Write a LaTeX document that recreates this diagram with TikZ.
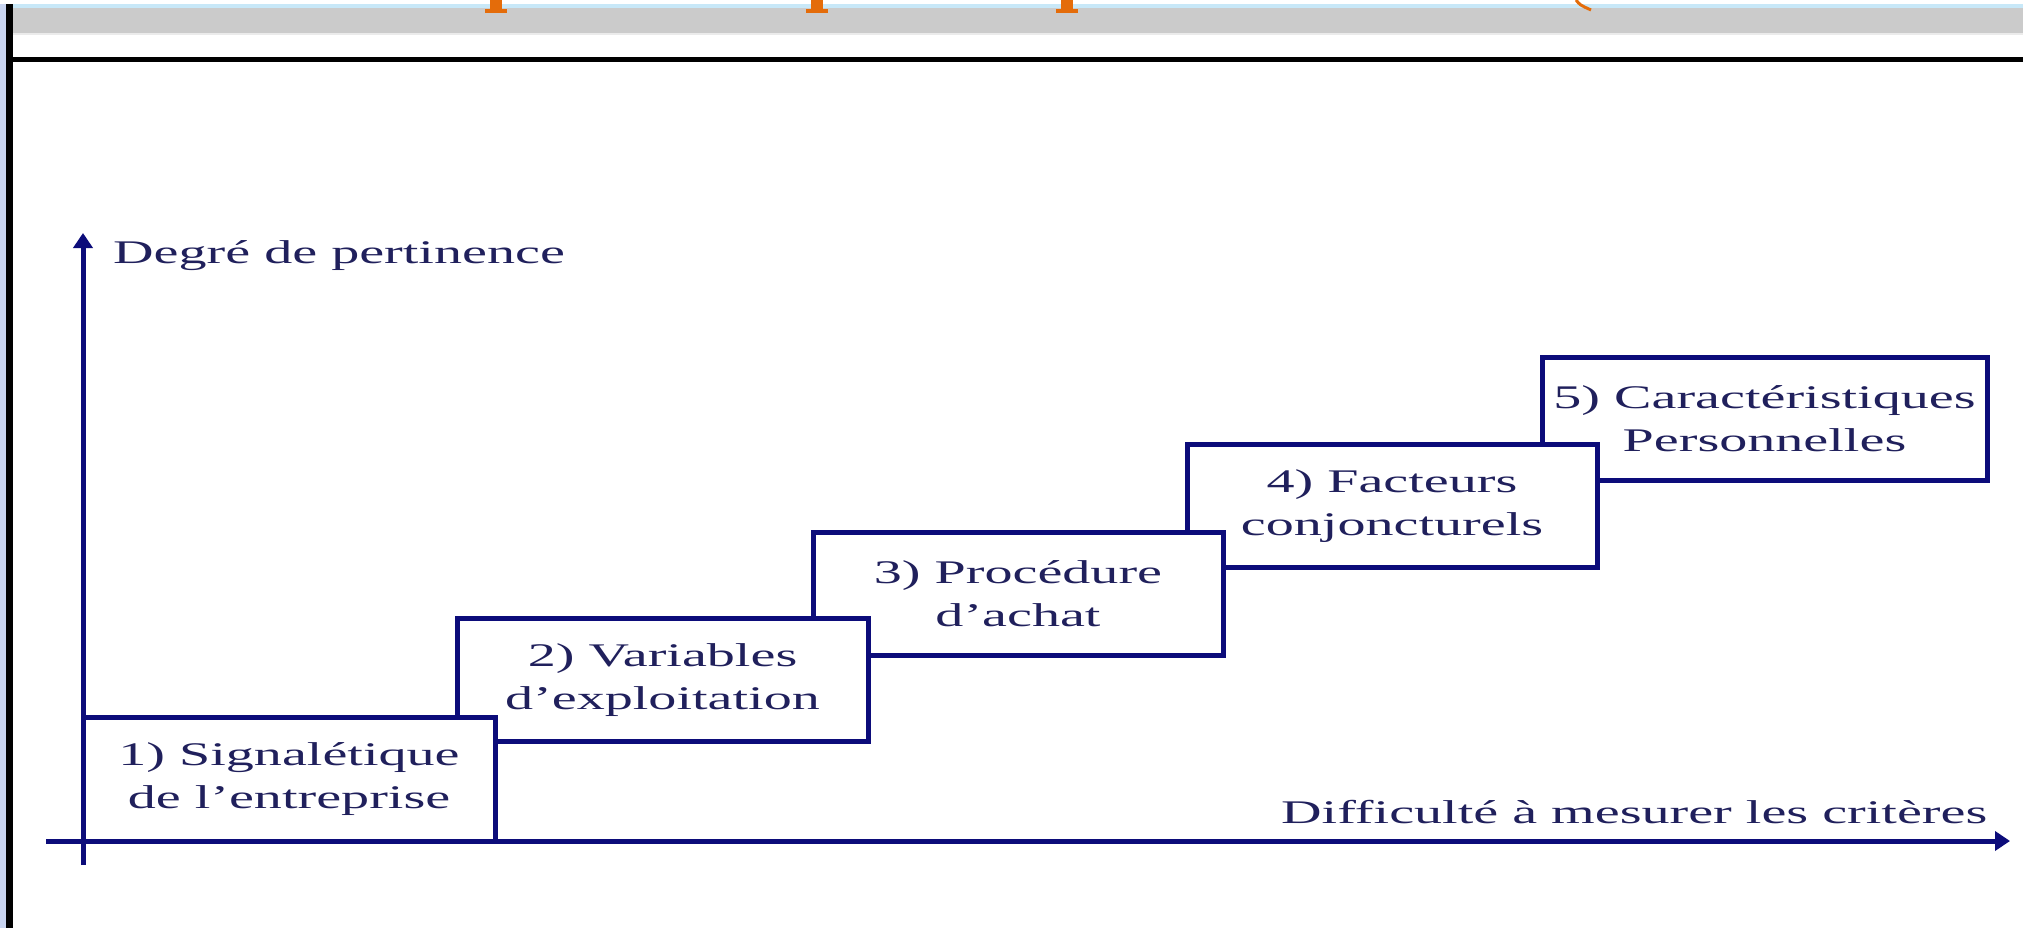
\documentclass[tikz,border=0pt]{standalone}
\usepackage{fontspec}
\newfontfamily\lblfont{Liberation Serif}[FakeStretch=1.7]
\usetikzlibrary{arrows.meta}
\definecolor{navyline}{RGB}{12,12,122}
\definecolor{navytext}{RGB}{32,32,92}
\definecolor{titleorange}{RGB}{228,108,10}
\definecolor{bandgray}{RGB}{203,203,203}
\definecolor{bandblue}{RGB}{200,232,248}
\definecolor{sideblue}{RGB}{200,212,240}

\begin{document}
\begin{tikzpicture}[x=1pt,y=-1pt,
  lbl/.style={font=\lblfont\fontsize{33}{43}\selectfont, text=navytext},
  stepbox/.style={lbl, draw=navyline, line width=5pt, fill=white,
    minimum width=#1, minimum height=123pt, inner sep=0pt, outer sep=0pt,
    align=center},
  stepbox/.default=411pt,
  axislabel/.style={lbl, inner sep=0pt, anchor=base west},
  axis/.style={draw=navyline, line width=5pt, -{Triangle[length=15pt,width=19pt]}},
  descender/.style={fill=titleorange, draw=none}
]
\useasboundingbox (0,0) rectangle (2023,928);
\fill[white] (0,0) rectangle (2023,928);

% slide header band and frame
\fill[bandblue] (0,4) rectangle (2023,8);
\fill[bandgray] (0,8) rectangle (2023,33);
\fill[black!8] (0,33) rectangle (2023,35);
\fill[sideblue] (0,4) rectangle (6,928);
\fill[black] (6,4) rectangle (13,928);
\fill[black] (6,57) rectangle (2023,62);

% lower ends of the header title letters
\foreach \cx in {496,817,1067}{
  \fill[descender] (\cx-6,0) rectangle (\cx+6,10);
  \fill[descender] (\cx-11,9) rectangle (\cx+11,13);
}
\draw[titleorange, line width=3pt] (1576,0) .. controls (1580,5) .. (1591,10);

% axes
\coordinate (ybot) at (83,865);
\coordinate (ytop) at (83,233);
\coordinate (xleft) at (46,841);
\coordinate (xright) at (2010,841);
\draw[axis] (ybot) -- (ytop);
\draw[axis] (xleft) -- (xright);

\node[axislabel] (ylab) at (113,263) {Degré de pertinence};
\node[axislabel] (xlab) at (1281,823) {Difficulté à mesurer les critères};

% staircase of criteria, drawn from the top step down
\node[stepbox=445pt] (s5) at (1764.5,419) {5) Caractéristiques\\Personnelles};
\node[stepbox=410pt] (s4) at (1392,506) {4) Facteurs\\conjoncturels};
\node[stepbox=410pt] (s3) at (1018,593.5) {3) Procédure\\d’achat};
\node[stepbox=411pt] (s2) at (662.5,680) {2) Variables\\d’exploitation};
\node[stepbox=412pt, minimum height=124pt] (s1) at (289,779) {1) Signalétique\\de l’entreprise};
\end{tikzpicture}
\end{document}
